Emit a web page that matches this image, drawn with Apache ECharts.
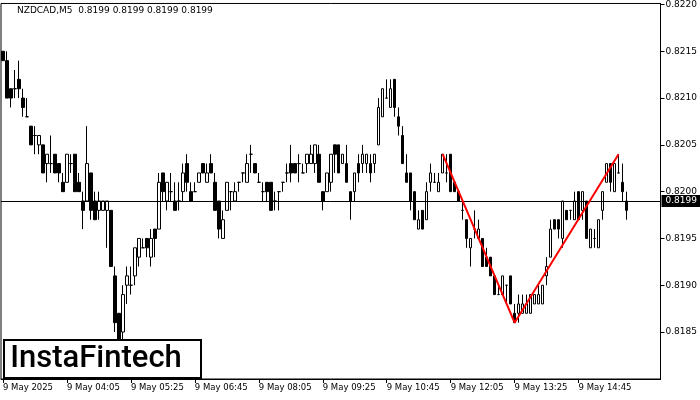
<!DOCTYPE html>
<html><head><meta charset="utf-8">
<script src="https://cdn.jsdelivr.net/npm/echarts@6.0.0/dist/echarts.min.js"></script>
<style>html,body{margin:0;padding:0;background:#fff}#c{width:700px;height:400px}</style>
</head><body><div id="c"></div>
<script>
const symbolName = "NZDCAD,M5";
const lastQuote = "0.8199 0.8199 0.8199 0.8199";
const tickLabels = ["9 May 2025","9 May 04:05","9 May 05:25","9 May 06:45","9 May 08:05","9 May 09:25","9 May 10:45","9 May 12:05","9 May 13:25","9 May 14:45"];
const priceTicks = [0.8185,0.8190,0.8195,0.8200,0.8205,0.8210,0.8215,0.8220];
const openVals = [
.8215,.8214,.8211,.8211,.8212,.8210,.8208,.8207,.8206,.8205,.8205,.8203,.8203,.8204,.8203,.8201,.8201,.8203,.8204,.8201,
.8199,.8199,.8202,.8199,.8198,.8198,.8198,.8198,.8191,.8187,.8185,.8190,.8190,.8191,.8193,.8194,.8195,.8193,.8196,.8196,
.8202,.8199,.8200,.8199,.8199,.8200,.8203,.8200,.8200,.8201,.8203,.8201,.8203,.8201,.8199,.8195,.8198,.8200,.8199,.8201,
.8202,.8201,.8204,.8203,.8201,.8200,.8201,.8201,.8199,.8200,.8201,.8202,.8203,.8203,.8203,.8202,.8203,.8203,.8203,.8204,
.8200,.8200,.8201,.8205,.8205,.8203,.8203,.8200,.8200,.8203,.8203,.8203,.8203,.8203,.8205,.8208,.8210,.8209,.8212,.8208,
.8206,.8202,.8202,.8200,.8196,.8198,.8197,.8201,.8201,.8200,.8202,.8202,.8204,.8201,.8200,.8198,.8197,.8194,.8196,.8195,
.8195,.8193,.8193,.8191,.8189,.8189,.8190,.8191,.8187,.8187,.8187,.8187,.8187,.8188,.8188,.8188,.8191,.8193,.8197,.8197,
.8195,.8198,.8198,.8197,.8200,.8198,.8199,.8194,.8195,.8194,.8198,.8201,.8203,.8200,.8202,.8201,.8199];
const closeVals = [
.8214,.8210,.8210,.8211,.8211,.8209,.8208,.8205,.8206,.8206,.8202,.8204,.8203,.8202,.8202,.8200,.8204,.8203,.8200,.8200,
.8198,.8203,.8198,.8197,.8199,.8199,.8199,.8192,.8186,.8184,.8189,.8191,.8190,.8194,.8195,.8194,.8194,.8195,.8195,.8201,
.8200,.8201,.8200,.8198,.8199,.8202,.8201,.8199,.8200,.8202,.8202,.8202,.8202,.8198,.8196,.8197,.8201,.8200,.8200,.8201,
.8202,.8203,.8204,.8202,.8201,.8200,.8200,.8198,.8199,.8200,.8201,.8202,.8202,.8202,.8203,.8202,.8204,.8204,.8205,.8201,
.8199,.8202,.8204,.8204,.8202,.8204,.8201,.8199,.8202,.8202,.8204,.8204,.8202,.8204,.8209,.8211,.8210,.8211,.8209,.8207,
.8203,.8201,.8199,.8197,.8197,.8196,.8200,.8202,.8201,.8201,.8204,.8202,.8200,.8200,.8199,.8198,.8195,.8195,.8196,.8196,
.8192,.8192,.8191,.8189,.8189,.8191,.8190,.8188,.8186,.8188,.8188,.8188,.8189,.8189,.8189,.8190,.8192,.8196,.8196,.8196,
.8199,.8197,.8198,.8199,.8197,.8200,.8195,.8196,.8195,.8197,.8200,.8203,.8201,.8203,.8202,.8200,.8198];
const lowVals = [
.8214,.8210,.8209,.8210,.8210,.8208,.8208,.8205,.8204,.8204,.8202,.8201,.8202,.8202,.8201,.8200,.8201,.8202,.8200,.8200,
.8196,.8199,.8197,.8197,.8197,.8198,.8194,.8192,.8185,.8183,.8184,.8188,.8189,.8190,.8192,.8194,.8193,.8192,.8193,.8196,
.8199,.8198,.8199,.8198,.8198,.8199,.8200,.8199,.8200,.8201,.8202,.8201,.8202,.8198,.8195,.8195,.8198,.8198,.8199,.8200,
.8201,.8201,.8202,.8202,.8201,.8199,.8199,.8198,.8198,.8198,.8200,.8201,.8201,.8202,.8201,.8202,.8202,.8203,.8202,.8201,
.8198,.8200,.8200,.8202,.8202,.8203,.8201,.8197,.8199,.8201,.8202,.8202,.8201,.8202,.8205,.8208,.8210,.8209,.8208,.8206,
.8203,.8201,.8198,.8197,.8196,.8196,.8197,.8200,.8201,.8200,.8202,.8201,.8200,.8200,.8199,.8197,.8194,.8192,.8195,.8195,
.8192,.8192,.8191,.8189,.8189,.8189,.8188,.8188,.8186,.8186,.8187,.8187,.8187,.8188,.8188,.8188,.8190,.8193,.8196,.8195,
.8194,.8197,.8197,.8197,.8197,.8197,.8195,.8194,.8194,.8194,.8197,.8201,.8200,.8200,.8202,.8199,.8197];
const highVals = [
.8215,.8215,.8211,.8213,.8214,.8211,.8210,.8207,.8207,.8206,.8205,.8204,.8206,.8204,.8203,.8202,.8204,.8204,.8204,.8202,
.8200,.8207,.8202,.8200,.8200,.8199,.8199,.8198,.8192,.8187,.8190,.8192,.8192,.8194,.8195,.8195,.8195,.8196,.8196,.8202,
.8202,.8201,.8202,.8201,.8201,.8203,.8204,.8201,.8201,.8202,.8203,.8203,.8204,.8202,.8199,.8198,.8201,.8200,.8201,.8201,
.8202,.8204,.8205,.8203,.8202,.8201,.8201,.8201,.8200,.8200,.8201,.8203,.8205,.8203,.8204,.8203,.8204,.8205,.8205,.8205,
.8200,.8202,.8204,.8205,.8205,.8204,.8205,.8200,.8202,.8204,.8205,.8204,.8204,.8204,.8210,.8211,.8212,.8212,.8212,.8209,
.8207,.8204,.8202,.8200,.8198,.8198,.8201,.8203,.8202,.8202,.8204,.8204,.8204,.8201,.8200,.8199,.8197,.8195,.8198,.8197,
.8195,.8194,.8193,.8191,.8190,.8191,.8190,.8191,.8188,.8189,.8189,.8189,.8189,.8189,.8190,.8190,.8193,.8197,.8197,.8197,
.8199,.8198,.8198,.8200,.8200,.8200,.8199,.8196,.8196,.8197,.8200,.8203,.8203,.8203,.8204,.8203,.8200];
const currentPrice = 0.8199;
const patternIdx = [110,128,154];
const patternPrice = [0.8204,0.8186,0.8204];
const emptySlots = 8;

const n = openVals.length;
const total = n + emptySlots;
const cats = [];
for (let i = 0; i < total; i++) cats.push(String(i));
const candles = [];
for (let i = 0; i < n; i++) candles.push([openVals[i], closeVals[i], lowVals[i], highVals[i]]);
for (let i = 0; i < emptySlots; i++) candles.push('-');
const patternData = patternIdx.map((k, j) => [k, patternPrice[j]]);
const showIdx = (idx) => idx % 16 === 0 && idx / 16 < tickLabels.length;
const FONT = "DejaVu Sans";

const chart = echarts.init(document.getElementById('c'), null, {renderer: 'canvas'});
chart.setOption({
  animation: false,
  backgroundColor: '#fff',
  grid: {left: 1, top: 3, width: 660, height: 376, show: true, borderColor: '#000', borderWidth: 1, backgroundColor: 'transparent'},
  xAxis: {
    type: 'category', data: cats, boundaryGap: true,
    axisLine: {show: true, lineStyle: {color: '#000', width: 1}},
    axisTick: {show: true, interval: (i) => showIdx(i), alignWithLabel: true, length: 4, lineStyle: {color: '#000'}},
    axisLabel: {interval: (i) => showIdx(i), formatter: (v, i) => tickLabels[Math.round(i / 16)] || '', align: 'left',
      color: '#000', fontFamily: FONT, fontSize: 8.5, margin: 4},
    splitLine: {show: false}
  },
  yAxis: {
    type: 'value', position: 'right', scale: true, min: 0.817998, max: 0.822011,
    axisLine: {show: true, lineStyle: {color: '#000', width: 1}},
    axisTick: {show: true, customValues: priceTicks, length: 4, lineStyle: {color: '#000'}},
    axisLabel: {customValues: priceTicks, formatter: (v) => v.toFixed(4), color: '#000', fontFamily: FONT, fontSize: 9, margin: 5},
    splitLine: {show: false}
  },
  series: [
    {
      type: 'candlestick', data: candles, barWidth: 3,
      itemStyle: {color: '#ffffff', color0: '#000000', borderColor: '#000000', borderColor0: '#000000', borderWidth: 1},
      markLine: {
        silent: true, symbol: ['none', 'none'], animation: false, precision: 4,
        lineStyle: {color: '#000', width: 1, type: 'solid'},
        label: {show: true, position: 'end', distance: 1, formatter: currentPrice.toFixed(4), color: '#fff', backgroundColor: '#000',
          fontFamily: FONT, fontSize: 9, padding: [2, 4, 1, 4]},
        data: [{yAxis: currentPrice}]
      },
      z: 3
    },
    {
      type: 'line', data: patternData, symbol: 'none', lineStyle: {color: '#ff0000', width: 2}, z: 5
    }
  ],
  graphic: [
    {type: 'text', left: 17, top: 6, z: 100, style: {text: symbolName + '  ' + lastQuote, fill: '#000', font: '9px "DejaVu Sans"'}},
    {type: 'rect', shape: {x: 4, y: 340, width: 197, height: 38}, z: 100, style: {fill: '#fff', stroke: '#000', lineWidth: 2}},
    {type: 'text', x: 96, y: 359, z: 101, style: {text: 'InstaFintech', fill: '#000', font: '500 31px Roboto', align: 'center', verticalAlign: 'middle'}}
  ]
});
</script></body></html>
